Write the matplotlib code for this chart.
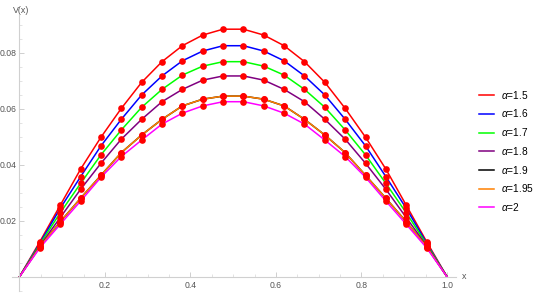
import matplotlib
matplotlib.use("Agg")
import matplotlib.pyplot as plt
from matplotlib.ticker import MultipleLocator

plt.rcParams['font.family'] = ['Liberation Sans', 'DejaVu Sans']
plt.rcParams['mathtext.fontset'] = 'custom'
plt.rcParams['mathtext.it'] = 'Liberation Sans:italic'
plt.rcParams['mathtext.rm'] = 'Liberation Sans'

# nodes x = k/21, k = 0..21
x_nodes = [k / 21 for k in range(22)]

labels = [r"$\alpha$=1.5", r"$\alpha$=1.6", r"$\alpha$=1.7", r"$\alpha$=1.8",
          r"$\alpha$=1.9", r"$\alpha$=1.95", r"$\alpha$=2"]
colors = ["#ff0000", "#0000ff", "#00ff00", "#800080", "#000000", "#ff8000", "#ff00ff"]

v_15 = [0, .0125, .0255, .0384, .0498, .0601, .0694, .0768, .0825, .0863, .0884,
        .0884, .0863, .0825, .0768, .0694, .0601, .0498, .0384, .0255, .0125, 0]
v_16 = [0, .0120, .0244, .0357, .0467, .0562, .0649, .0717, .0771, .0806, .0825,
        .0825, .0806, .0771, .0717, .0649, .0562, .0467, .0357, .0244, .0120, 0]
v_17 = [0, .0116, .0228, .0333, .0435, .0524, .0605, .0669, .0720, .0752, .0768,
        .0768, .0752, .0720, .0669, .0605, .0524, .0435, .0333, .0228, .0116, 0]
v_18 = [0, .0111, .0211, .0312, .0405, .0491, .0562, .0625, .0669, .0702, .0717,
        .0717, .0702, .0669, .0625, .0562, .0491, .0405, .0312, .0211, .0111, 0]
v_19 = [0, .0107, .0196, .0280, .0362, .0443, .0506, .0562, .0610, .0634, .0645,
        .0645, .0634, .0610, .0562, .0506, .0443, .0362, .0280, .0196, .0107, 0]
v_195 = [0, .0107, .0196, .0280, .0362, .0443, .0506, .0562, .0610, .0634, .0645,
         .0645, .0634, .0610, .0562, .0506, .0443, .0362, .0280, .0196, .0107, 0]
v_2 = [0, .0103, .0187, .0270, .0355, .0429, .0488, .0545, .0584, .0610, .0625,
       .0625, .0610, .0584, .0545, .0488, .0429, .0355, .0270, .0187, .0103, 0]

series = [v_15, v_16, v_17, v_18, v_19, v_195, v_2]

fig = plt.figure(figsize=(5.36, 2.93), dpi=100)
ax = fig.add_axes([0.022, 0.0078, 0.8295, 0.9413])

for vals, c, lab in zip(series, colors, labels):
    ax.plot(x_nodes, vals, color=c, lw=1.1, label=lab, zorder=2)
for vals in series:
    ax.plot(x_nodes[1:-1], vals[1:-1], 'o', color='#ff0000', ms=4.8, mew=0, zorder=3)

ax.set_xlim(-0.018, 1.022)
ax.set_ylim(-0.005, 0.0935)

for s in ['top', 'right']:
    ax.spines[s].set_visible(False)
ax.spines['left'].set_position(('data', 0))
ax.spines['bottom'].set_position(('data', 0))
for s in ['left', 'bottom']:
    ax.spines[s].set_color('#d0d0d0')
    ax.spines[s].set_linewidth(0.8)

ax.xaxis.set_major_locator(MultipleLocator(0.2))
ax.xaxis.set_minor_locator(MultipleLocator(0.05))
ax.yaxis.set_major_locator(MultipleLocator(0.02))
ax.yaxis.set_minor_locator(MultipleLocator(0.005))
ax.set_xticks([0.2, 0.4, 0.6, 0.8, 1.0])
ax.set_xticklabels(["0.2", "0.4", "0.6", "0.8", "1.0"])
ax.set_yticks([0.02, 0.04, 0.06, 0.08])
ax.set_yticklabels(["0.02", "0.04", "0.06", "0.08"])
ax.tick_params(which='major', direction='in', length=3.5, width=0.6, color='#c8c8c8',
               labelsize=6.2, labelcolor='#555555', pad=2)
ax.tick_params(axis='x', which='major', pad=3)
ax.tick_params(which='minor', direction='in', length=2, width=0.5, color='#d8d8d8')

fig.text(0.024, 0.978, "V(x)", fontsize=6.4, color='#555555', ha='left', va='top')
fig.text(0.862, 0.055, "x", fontsize=6.4, color='#555555', ha='left', va='center')

leg = ax.legend(loc='upper left', bbox_to_anchor=(0.893, 0.697), bbox_transform=fig.transFigure,
                frameon=False, fontsize=7.3, handlelength=1.5, handletextpad=0.7,
                labelspacing=0.66, borderpad=0, borderaxespad=0)

fig.savefig("out.png", dpi=100)
